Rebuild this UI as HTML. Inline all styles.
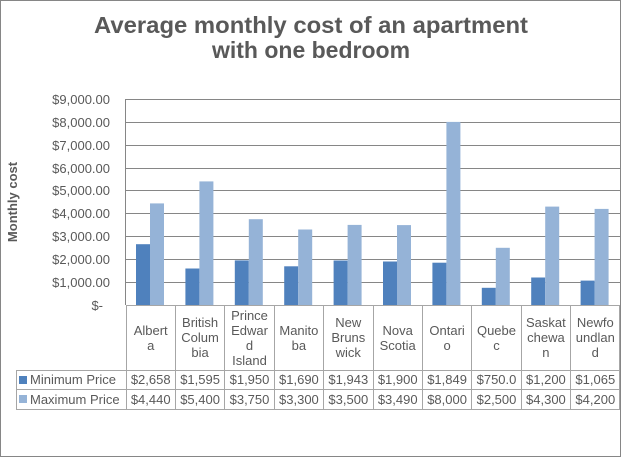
<!DOCTYPE html>
<html><head><style>html,body{margin:0;padding:0;background:#fff}svg{display:block}text{font-family:"Liberation Sans",Arial,sans-serif;fill:#595959}</style></head><body>
<svg width="621" height="457" viewBox="0 0 621 457" xmlns="http://www.w3.org/2000/svg">
<rect x="0.5" y="0.5" width="620" height="456" fill="#fff" stroke="#868686"/>
<text x="311" y="33" font-size="23" font-weight="bold" text-anchor="middle" textLength="434" lengthAdjust="spacingAndGlyphs">Average monthly cost of an apartment</text>
<text x="311" y="58" font-size="23" font-weight="bold" text-anchor="middle">with one bedroom</text>
<g stroke="#868686" stroke-width="1">
<line x1="126" y1="99.5" x2="620" y2="99.5"/><line x1="126" y1="122.5" x2="620" y2="122.5"/><line x1="126" y1="145.5" x2="620" y2="145.5"/><line x1="126" y1="168.5" x2="620" y2="168.5"/><line x1="126" y1="190.5" x2="620" y2="190.5"/><line x1="126" y1="213.5" x2="620" y2="213.5"/><line x1="126" y1="236.5" x2="620" y2="236.5"/><line x1="126" y1="259.5" x2="620" y2="259.5"/><line x1="126" y1="282.5" x2="620" y2="282.5"/>
<line x1="125.5" y1="99" x2="125.5" y2="305"/>
</g>
<g font-size="13" text-anchor="end">
<text x="110" y="104">$9,000.00</text><text x="110" y="127">$8,000.00</text><text x="110" y="150">$7,000.00</text><text x="110" y="173">$6,000.00</text><text x="110" y="195">$5,000.00</text><text x="110" y="218">$4,000.00</text><text x="110" y="241">$3,000.00</text><text x="110" y="264">$2,000.00</text><text x="110" y="287">$1,000.00</text><text x="103" y="310">$-</text>
</g>
<text transform="translate(17,202) rotate(-90)" font-size="13" font-weight="bold" text-anchor="middle">Monthly cost</text>
<g fill="#4f81bd">
<rect x="136" y="244.2" width="14" height="60.8"/><rect x="185.4" y="268.5" width="14" height="36.5"/><rect x="234.8" y="260.4" width="14" height="44.6"/><rect x="284.2" y="266.3" width="14" height="38.7"/><rect x="333.6" y="260.5" width="14" height="44.5"/><rect x="383" y="261.5" width="14" height="43.5"/><rect x="432.4" y="262.7" width="14" height="42.3"/><rect x="481.8" y="287.8" width="14" height="17.2"/><rect x="531.2" y="277.5" width="14" height="27.5"/><rect x="580.6" y="280.6" width="14" height="24.4"/>
</g>
<g fill="#95b3d7">
<rect x="150" y="203.4" width="14" height="101.6"/><rect x="199.4" y="181.4" width="14" height="123.6"/><rect x="248.8" y="219.2" width="14" height="85.8"/><rect x="298.2" y="229.5" width="14" height="75.5"/><rect x="347.6" y="224.9" width="14" height="80.1"/><rect x="397" y="225.1" width="14" height="79.9"/><rect x="446.4" y="121.9" width="14" height="183.1"/><rect x="495.8" y="247.8" width="14" height="57.2"/><rect x="545.2" y="206.6" width="14" height="98.4"/><rect x="594.6" y="208.9" width="14" height="96.1"/>
</g>
<g stroke="#a6a6a6" stroke-width="1">
<line x1="126" y1="305.5" x2="620" y2="305.5"/>
<line x1="16" y1="370.5" x2="620" y2="370.5"/><line x1="16" y1="389.5" x2="620" y2="389.5"/><line x1="16" y1="409.5" x2="620" y2="409.5"/>
<line x1="16.5" y1="370" x2="16.5" y2="409"/>
<line x1="126.5" y1="305" x2="126.5" y2="409"/><line x1="175.5" y1="305" x2="175.5" y2="409"/><line x1="224.5" y1="305" x2="224.5" y2="409"/><line x1="274.5" y1="305" x2="274.5" y2="409"/><line x1="323.5" y1="305" x2="323.5" y2="409"/><line x1="373.5" y1="305" x2="373.5" y2="409"/><line x1="422.5" y1="305" x2="422.5" y2="409"/><line x1="471.5" y1="305" x2="471.5" y2="409"/><line x1="521.5" y1="305" x2="521.5" y2="409"/><line x1="570.5" y1="305" x2="570.5" y2="409"/><line x1="619.5" y1="305" x2="619.5" y2="409"/>
</g>
<g font-size="13" text-anchor="middle">
<text x="150.7" y="335">Albert</text><text x="150.7" y="350">a</text>
<text x="200.1" y="327">British</text><text x="200.1" y="342">Colum</text><text x="200.1" y="357">bia</text>
<text x="249.5" y="320">Prince</text><text x="249.5" y="335">Edwar</text><text x="249.5" y="350">d</text><text x="249.5" y="365">Island</text>
<text x="298.9" y="335">Manito</text><text x="298.9" y="350">ba</text>
<text x="348.3" y="327">New</text><text x="348.3" y="342">Bruns</text><text x="348.3" y="357">wick</text>
<text x="397.7" y="335">Nova</text><text x="397.7" y="350">Scotia</text>
<text x="447.1" y="335">Ontari</text><text x="447.1" y="350">o</text>
<text x="496.5" y="335">Quebe</text><text x="496.5" y="350">c</text>
<text x="545.9" y="327">Saskat</text><text x="545.9" y="342">chewa</text><text x="545.9" y="357">n</text>
<text x="595.3" y="327">Newfo</text><text x="595.3" y="342">undlan</text><text x="595.3" y="357">d</text>
</g>
<rect x="19" y="376" width="8" height="8" fill="#4f81bd"/>
<rect x="19" y="395" width="8" height="8" fill="#95b3d7"/>
<g font-size="13">
<text x="30" y="384">Minimum Price</text>
<text x="30" y="404">Maximum Price</text>
</g>
<g font-size="13" text-anchor="middle">
<text x="150.7" y="384">$2,658</text><text x="200.1" y="384">$1,595</text><text x="249.5" y="384">$1,950</text><text x="298.9" y="384">$1,690</text><text x="348.3" y="384">$1,943</text><text x="397.7" y="384">$1,900</text><text x="447.1" y="384">$1,849</text><text x="496.5" y="384">$750.0</text><text x="545.9" y="384">$1,200</text><text x="595.3" y="384">$1,065</text>
<text x="150.7" y="404">$4,440</text><text x="200.1" y="404">$5,400</text><text x="249.5" y="404">$3,750</text><text x="298.9" y="404">$3,300</text><text x="348.3" y="404">$3,500</text><text x="397.7" y="404">$3,490</text><text x="447.1" y="404">$8,000</text><text x="496.5" y="404">$2,500</text><text x="545.9" y="404">$4,300</text><text x="595.3" y="404">$4,200</text>
</g>
</svg>
</body></html>
